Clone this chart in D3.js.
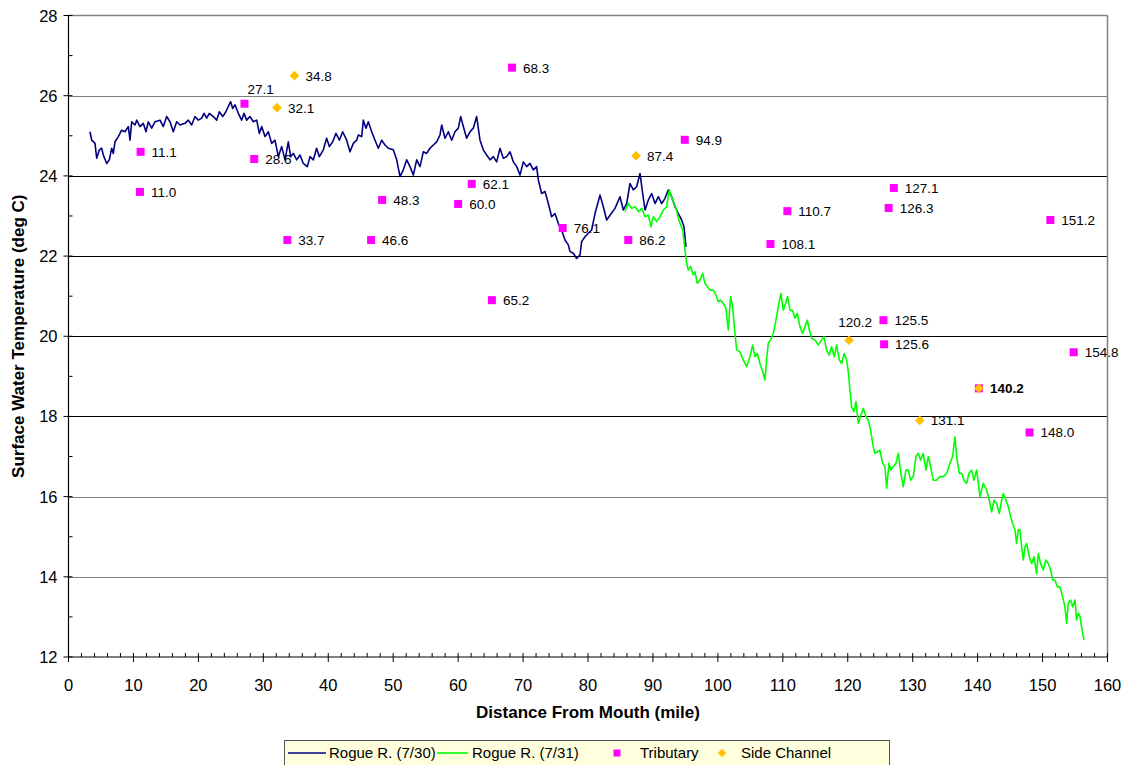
<!DOCTYPE html>
<html><head><meta charset="utf-8">
<script src="https://cdn.jsdelivr.net/npm/d3@7"></script>
<style>body{margin:0;background:#fff;} svg{display:block;font-family:Arial,"Liberation Sans",sans-serif;}</style>
</head><body>
<svg id="c" width="1124" height="765"></svg>
<script>
// Rogue R. (7/30): [mile, temp]
const rogue730 = [
[3.31,25.10],[3.57,24.89],[4.08,24.81],[4.34,24.44],[4.75,24.65],[5.11,24.69],[5.36,24.52],[5.88,24.31],[6.29,24.40],
[6.65,24.69],[6.90,24.56],[7.16,24.85],[7.67,24.98],[8.19,25.14],[8.70,25.10],[9.21,25.23],[9.47,24.89],[9.73,25.35],
[10.24,25.27],[10.50,25.39],[11.01,25.23],[11.52,25.31],[11.93,25.10],[12.29,25.35],[12.81,25.19],[13.32,25.35],
[14.09,25.39],[14.60,25.23],[15.12,25.48],[15.63,25.35],[16.14,25.10],[16.66,25.35],[17.17,25.27],[17.94,25.31],
[18.45,25.39],[18.97,25.27],[19.48,25.48],[19.99,25.39],[20.51,25.44],[20.87,25.56],[21.28,25.44],[21.69,25.56],
[22.30,25.48],[22.82,25.39],[23.23,25.60],[23.74,25.48],[24.10,25.56],[24.61,25.73],[24.97,25.85],[25.28,25.68],
[25.64,25.77],[26.15,25.56],[26.67,25.39],[27.03,25.56],[27.44,25.39],[27.95,25.48],[28.46,25.35],[28.98,25.39],
[29.39,25.06],[29.75,25.23],[30.26,24.98],[30.77,25.10],[31.29,24.81],[31.80,24.89],[32.31,24.48],[32.83,24.73],
[33.34,24.40],[33.85,24.85],[34.21,24.48],[34.62,24.56],[35.14,24.40],[35.65,24.52],[36.16,24.31],[36.78,24.23],
[37.19,24.48],[37.70,24.40],[38.21,24.69],[38.63,24.48],[39.24,24.65],[39.75,24.94],[40.17,24.73],[40.68,24.85],
[41.19,25.06],[41.71,24.89],[42.22,25.10],[42.84,24.89],[43.35,24.60],[43.86,24.81],[44.38,24.89],[44.63,25.02],
[45.15,24.98],[45.40,25.39],[45.81,25.19],[46.17,25.35],[46.69,25.10],[47.20,24.89],[47.71,24.69],[48.23,24.89],
[48.74,24.77],[49.25,24.69],[50.02,24.65],[50.54,24.40],[51.05,23.98],[51.56,24.15],[52.08,24.40],[52.59,24.23],
[53.10,24.02],[53.62,24.40],[54.13,24.23],[54.64,24.60],[55.16,24.56],[55.67,24.69],[56.18,24.77],[56.70,24.85],
[57.21,25.02],[57.47,25.27],[57.98,24.94],[58.49,25.10],[59.01,24.89],[59.52,25.10],[60.03,25.19],[60.39,25.48],
[60.80,25.23],[61.31,24.94],[61.83,25.10],[62.34,25.19],[62.85,25.48],[63.37,24.89],[63.88,24.65],[64.39,24.52],
[64.91,24.40],[65.42,24.48],[65.93,24.35],[66.45,24.69],[66.96,24.44],[67.48,24.48],[67.99,24.60],[68.50,24.35],
[69.02,24.23],[69.53,24.02],[70.04,24.35],[70.55,24.23],[71.07,24.31],[71.58,24.15],[72.09,24.23],[72.35,23.90],
[72.86,23.56],[73.38,23.61],[73.89,23.31],[74.40,22.98],[74.92,23.06],[75.43,22.81],[75.94,22.65],[76.46,22.40],
[76.97,22.28],[77.23,22.11],[77.74,22.07],[78.25,21.94],[78.77,22.03],[79.02,22.36],[79.54,22.48],[80.05,22.57],
[80.56,22.65],[81.08,23.06],[81.85,23.52],[82.36,23.23],[82.87,22.90],[83.39,23.02],[84.16,23.19],[84.93,23.48],
[85.44,23.15],[85.95,23.31],[86.47,23.81],[86.98,23.65],[87.49,23.73],[88.01,24.06],[88.42,23.56],[88.78,23.15],
[89.29,23.40],[89.81,23.56],[90.32,23.31],[90.83,23.48],[91.35,23.31],[91.86,23.44],[92.37,23.65],[92.89,23.48],
[93.40,23.23],[93.91,23.06],[94.42,22.90],[94.78,22.73],[95.09,22.23]
];
// Rogue R. (7/31): [mile, temp]
const rogue731 = [
[85.70,23.11],[86.21,23.31],[86.73,23.19],[87.24,23.23],[87.75,23.11],[88.27,23.19],[88.78,22.98],[89.29,23.02],
[89.70,22.73],[90.06,22.98],[90.58,22.86],[91.09,22.98],[91.60,23.15],[92.11,23.23],[92.53,23.65],[93.04,23.40],
[93.55,23.19],[94.07,22.86],[94.58,22.65],[94.94,22.15],[95.19,21.82],[95.44,21.65],[95.80,21.74],[96.21,21.53],
[96.47,21.61],[96.83,21.32],[97.24,21.40],[97.65,21.57],[98.01,21.32],[98.37,21.24],[98.78,21.15],[99.29,21.15],
[99.70,21.03],[100.06,20.86],[100.42,20.90],[100.83,20.82],[101.24,20.70],[101.60,20.16],[101.96,20.99],[102.27,20.74],
[102.63,20.07],[102.89,19.66],[103.40,19.61],[103.91,19.41],[104.43,19.24],[104.94,19.49],[105.35,19.78],[105.71,19.49],
[106.07,19.57],[106.48,19.32],[106.89,19.12],[107.25,18.91],[107.50,19.41],[107.76,19.82],[108.12,19.91],[108.53,20.07],
[108.94,20.40],[109.30,20.74],[109.71,21.07],[110.07,20.65],[110.43,20.82],[110.74,20.99],[111.10,20.65],[111.51,20.65],
[111.87,20.45],[112.23,20.57],[112.64,20.24],[113.05,20.07],[113.41,20.24],[113.77,20.40],[114.08,20.16],[114.44,19.95],
[114.95,19.91],[115.46,19.78],[115.97,19.91],[116.33,19.99],[116.74,19.66],[117.15,19.53],[117.51,19.74],[117.92,19.49],
[118.28,19.78],[118.70,19.41],[119.05,19.32],[119.46,19.57],[119.82,19.41],[120.08,19.12],[120.34,18.66],[120.59,18.24],
[120.95,18.12],[121.26,18.37],[121.62,17.83],[122.03,18.04],[122.39,18.20],[122.80,18.00],[123.16,17.91],[123.52,17.66],
[123.93,17.24],[124.19,17.08],[124.55,17.12],[124.96,17.16],[125.37,16.83],[125.73,16.75],[125.99,16.21],[126.35,16.83],
[126.65,16.66],[127.01,16.75],[127.42,16.83],[127.78,17.08],[128.19,16.58],[128.55,16.25],[128.96,16.66],[129.32,16.66],
[129.68,16.41],[130.09,16.50],[130.50,17.00],[130.86,17.08],[131.22,16.91],[131.63,17.08],[132.04,16.66],[132.40,17.00],
[132.76,16.75],[133.17,16.41],[133.68,16.41],[134.20,16.50],[134.71,16.50],[135.23,16.58],[135.74,16.83],[136.15,17.00],
[136.51,17.49],[136.77,17.00],[137.18,16.58],[137.54,16.58],[137.90,16.41],[138.31,16.33],[138.66,16.58],[139.08,16.66],
[139.43,16.41],[139.85,16.66],[140.36,16.00],[140.87,16.33],[141.39,16.16],[141.80,15.91],[142.16,15.62],[142.52,15.91],
[142.93,15.83],[143.34,15.58],[143.70,15.91],[143.95,16.08],[144.36,15.91],[144.72,15.75],[145.08,15.50],[145.39,15.33],
[145.75,15.17],[146.00,14.83],[146.26,15.17],[146.52,15.17],[146.78,14.75],[147.03,14.42],[147.29,14.75],[147.55,14.83],
[147.96,14.50],[148.32,14.33],[148.67,14.50],[149.08,14.08],[149.34,14.58],[149.70,14.33],[150.11,14.17],[150.52,14.42],
[150.88,14.33],[151.24,14.17],[151.55,13.92],[151.91,13.92],[152.27,13.75],[152.68,13.75],[153.09,13.50],[153.45,13.25],
[153.70,12.84],[153.96,13.34],[154.32,13.42],[154.63,13.25],[154.99,13.42],[155.24,12.92],[155.55,13.09],[155.76,13.01],
[156.01,12.75],[156.37,12.42]
];
// Tributary points
const tribMile = [11.1,11.0,27.1,28.6,33.7,46.6,48.3,60.0,62.1,65.2,68.3,76.1,86.2,94.9,108.1,110.7,125.5,125.6,126.3,127.1,140.2,148.0,151.2,154.8];
const tribTemp = [24.6,23.6,25.8,24.42,22.4,22.4,23.4,23.3,23.8,20.9,26.7,22.7,22.4,24.9,22.3,23.12,20.4,19.8,23.2,23.7,18.7,17.6,22.9,19.6];
// Side channel points
const sideMile = [34.8,32.1,87.4,120.2,131.1,140.2];
const sideTemp = [26.5,25.7,24.5,19.9,17.9,18.7];
// Axis ticks
const xTicks = [0,10,20,30,40,50,60,70,80,90,100,110,120,130,140,150,160];
const yTicks = [12,14,16,18,20,22,24,26,28];
const legendLabels = ["Rogue R. (7/30)","Rogue R. (7/31)","Tributary","Side Channel"];

const svg = d3.select("#c");
const L=68.5, R=1107.5, T=15.5, B=657;
const x = d3.scaleLinear().domain([0,160]).range([L,R]);
const y = d3.scaleLinear().domain([12,28]).range([B,T]);

// gridlines
const darkGrid = new Set([18,20,22,24]);
svg.append("g").selectAll("line").data(yTicks.filter(v=>v>12&&v<28)).join("line")
  .attr("x1",L).attr("x2",R).attr("y1",d=>Math.round(y(d))+0.5).attr("y2",d=>Math.round(y(d))+0.5)
  .attr("stroke",d=>darkGrid.has(d)?"#000":"#808080").attr("stroke-width",1);
// frame top/right
svg.append("line").attr("x1",L).attr("x2",R).attr("y1",T).attr("y2",T).attr("stroke","#808080").attr("stroke-width",1.5);
svg.append("line").attr("x1",R).attr("x2",R).attr("y1",T).attr("y2",B).attr("stroke","#808080").attr("stroke-width",1.5);

// axes
const gx = svg.append("g").attr("transform",`translate(0,${B})`);
gx.append("line").attr("x1",L).attr("x2",R).attr("stroke","#000").attr("stroke-width",1.2);
gx.selectAll(".mn").data(d3.range(0,161,2).filter(v=>v%10!==0)).join("line")
  .attr("x1",d=>x(d)).attr("x2",d=>x(d)).attr("y1",-4).attr("y2",0).attr("stroke","#000");
gx.selectAll(".mj").data(xTicks).join("line")
  .attr("x1",d=>x(d)).attr("x2",d=>x(d)).attr("y1",-4).attr("y2",5).attr("stroke","#000");
gx.selectAll("text").data(xTicks).join("text")
  .attr("x",d=>x(d)).attr("y",34).attr("text-anchor","middle").attr("font-size",16.5).attr("fill","#000").text(d=>d);

const gy = svg.append("g").attr("transform",`translate(${L},0)`);
gy.append("line").attr("y1",T).attr("y2",B).attr("stroke","#000").attr("stroke-width",1.2);
gy.selectAll(".mn").data(d3.range(13,28,2)).join("line")
  .attr("y1",d=>y(d)).attr("y2",d=>y(d)).attr("x1",0).attr("x2",4).attr("stroke","#000");
gy.selectAll(".mj").data(yTicks).join("line")
  .attr("y1",d=>y(d)).attr("y2",d=>y(d)).attr("x1",-5).attr("x2",4).attr("stroke","#000");
gy.selectAll("text").data(yTicks).join("text")
  .attr("x",-11).attr("y",d=>y(d)+6).attr("text-anchor","end").attr("font-size",16.5).attr("fill","#000").text(d=>d);

// axis titles
svg.append("text").attr("x",(L+R)/2).attr("y",718).attr("text-anchor","middle").attr("font-weight","bold")
  .attr("font-size",17).text("Distance From Mouth (mile)");
svg.append("text").attr("transform",`translate(24,${(T+B)/2}) rotate(-90)`).attr("text-anchor","middle")
  .attr("font-weight","bold").attr("font-size",17).text("Surface Water Temperature (deg C)");

// lines
const line = d3.line().x(d=>x(d[0])).y(d=>y(d[1]));
svg.append("path").datum(rogue730).attr("d",line).attr("fill","none").attr("stroke","#000080").attr("stroke-width",1.6).attr("stroke-linejoin","round");
svg.append("path").datum(rogue731).attr("d",line).attr("fill","none").attr("stroke","#00FF00").attr("stroke-width",1.6).attr("stroke-linejoin","round");

// markers
const trib = tribMile.map((m,i)=>({m,t:tribTemp[i],lab:m.toFixed(1)}));
const side = sideMile.map((m,i)=>({m,t:sideTemp[i],lab:m.toFixed(1)}));
svg.append("g").selectAll("rect").data(trib).join("rect")
  .attr("x",d=>x(d.m)-4).attr("y",d=>y(d.t)-4).attr("width",8).attr("height",8).attr("fill","#FF00FF");
const dsym = d3.symbol().type(d3.symbolDiamond2).size(60);
svg.append("g").selectAll("path").data(side).join("path")
  .attr("transform",d=>`translate(${x(d.m)},${y(d.t)})`).attr("d",dsym).attr("fill","#FFC000");

// labels
function labelPos(d){
  if(d.lab==="27.1") return {dx:3, dy:-15+5, anchor:"start"};
  if(d.lab==="120.2") return {dx:6, dy:-18+5, anchor:"middle"};
  return {dx:11, dy:5, anchor:"start"};
}
const all = trib.concat(side.filter(d=>d.lab!=="140.2"));
svg.append("g").selectAll("text").data(all).join("text")
  .each(function(d){const p=labelPos(d); d3.select(this).attr("x",x(d.m)+p.dx).attr("y",y(d.t)+p.dy).attr("text-anchor",p.anchor);})
  .attr("font-size",13.5).attr("fill","#000")
  .attr("font-weight",d=>d.lab==="140.2"?"bold":"normal")
  .text(d=>d.lab);

// legend
const lg = svg.append("g");
lg.append("rect").attr("x",284.5).attr("y",740.5).attr("width",605).attr("height",30).attr("fill","#FFFFDD").attr("stroke","#555");
const ly = 753;
lg.append("line").attr("x1",288).attr("x2",326).attr("y1",ly).attr("y2",ly).attr("stroke","#000080").attr("stroke-width",1.6);
lg.append("text").attr("x",329).attr("y",ly+5).attr("font-size",15).text(legendLabels[0]);
lg.append("line").attr("x1",437).attr("x2",468).attr("y1",ly).attr("y2",ly).attr("stroke","#00FF00").attr("stroke-width",1.6);
lg.append("text").attr("x",472).attr("y",ly+5).attr("font-size",15).text(legendLabels[1]);
lg.append("rect").attr("x",613.5).attr("y",ly-3.5).attr("width",7).attr("height",7).attr("fill","#FF00FF");
lg.append("text").attr("x",640).attr("y",ly+5).attr("font-size",15).text(legendLabels[2]);
lg.append("path").attr("transform",`translate(722,${ly})`).attr("d",d3.symbol().type(d3.symbolDiamond2).size(45)).attr("fill","#FFC000");
lg.append("text").attr("x",741).attr("y",ly+5).attr("font-size",15).text(legendLabels[3]);
</script>
</body></html>
